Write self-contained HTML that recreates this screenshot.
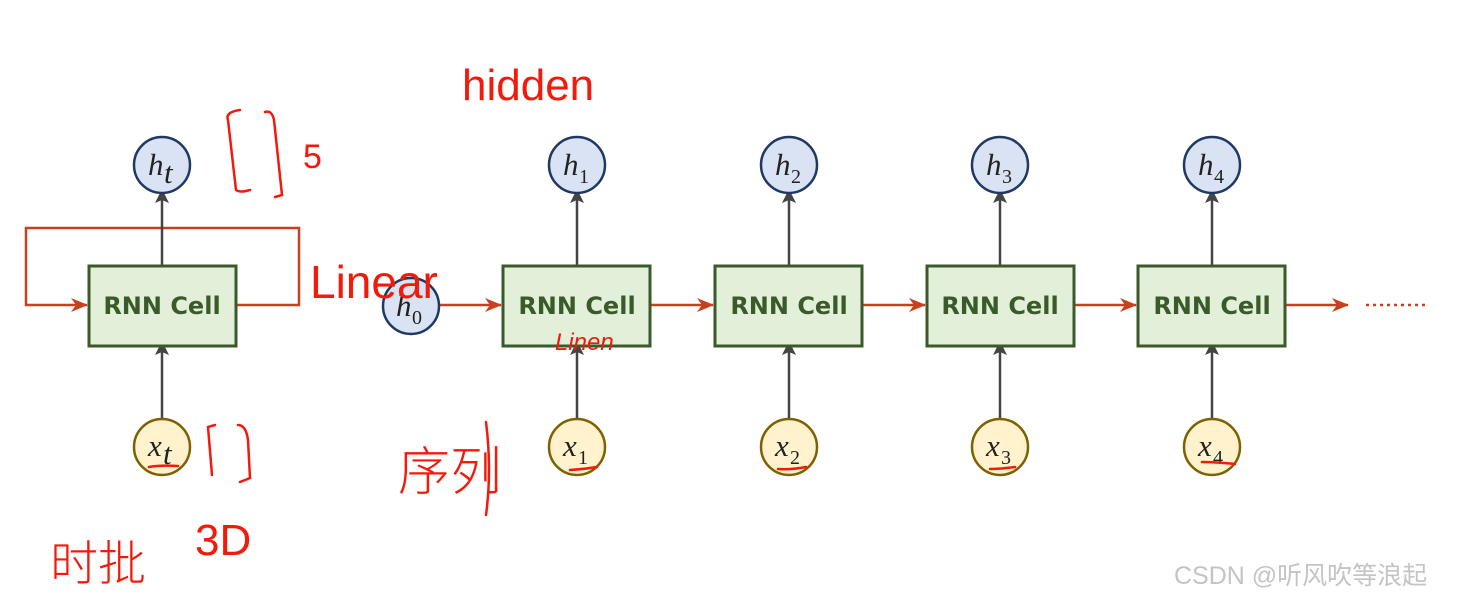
<!DOCTYPE html>
<html><head><meta charset="utf-8"><style>
html,body{margin:0;padding:0;background:#fff;width:1457px;height:602px;overflow:hidden}
svg{display:block}
.c{font-family:"DejaVu Sans","Liberation Sans",sans-serif;font-weight:bold;font-size:24px;fill:#3a5a2a}
.m{font-family:"Liberation Serif",serif;font-style:italic;font-size:31px;fill:#222}
.s{font-family:"Liberation Serif",serif;font-size:20px;fill:#222}
.r{font-family:"Liberation Sans","Noto Sans CJK SC",sans-serif;fill:#f21a0a;font-weight:300}
</style></head><body>
<svg width="1457" height="602" viewBox="0 0 1457 602">
<defs>
<marker id="ar" markerWidth="18" markerHeight="14" refX="16" refY="7" orient="auto" markerUnits="userSpaceOnUse">
<path d="M0,0 L17,7 L0,14 L5,7 Z" fill="#c8401e"/></marker>
<marker id="ag" markerWidth="14" markerHeight="14" refX="7" refY="7" orient="auto" markerUnits="userSpaceOnUse">
<path d="M0,0 L14,7 L0,14 L3,7 Z" fill="#444"/></marker>
</defs>
<g stroke="#c8401e" stroke-width="2.5" fill="none">
<polyline points="236,305 299,305 299,228 26,228 26,305 87,305" marker-end="url(#ar)"/>
<line x1="440" y1="305" x2="501" y2="305" marker-end="url(#ar)"/>
<line x1="650" y1="305" x2="713" y2="305" marker-end="url(#ar)"/>
<line x1="862" y1="305" x2="925" y2="305" marker-end="url(#ar)"/>
<line x1="1074" y1="305" x2="1136" y2="305" marker-end="url(#ar)"/>
<line x1="1285" y1="305" x2="1348" y2="305" marker-end="url(#ar)"/>
<line x1="1366" y1="305" x2="1428" y2="305" stroke-dasharray="3,4"/>
</g>
<g stroke="#444" stroke-width="2.5">
<line x1="162" y1="265" x2="162" y2="196" marker-end="url(#ag)"/>
<line x1="162" y1="418" x2="162" y2="348" marker-end="url(#ag)"/>
<line x1="577" y1="265" x2="577" y2="196" marker-end="url(#ag)"/>
<line x1="577" y1="418" x2="577" y2="348" marker-end="url(#ag)"/>
<line x1="789" y1="265" x2="789" y2="196" marker-end="url(#ag)"/>
<line x1="789" y1="418" x2="789" y2="348" marker-end="url(#ag)"/>
<line x1="1000" y1="265" x2="1000" y2="196" marker-end="url(#ag)"/>
<line x1="1000" y1="418" x2="1000" y2="348" marker-end="url(#ag)"/>
<line x1="1212" y1="265" x2="1212" y2="196" marker-end="url(#ag)"/>
<line x1="1212" y1="418" x2="1212" y2="348" marker-end="url(#ag)"/>
</g>
<g fill="#e2efd9" stroke="#3b5a2a" stroke-width="3">
<rect x="89" y="266" width="147" height="80"/>
<rect x="503" y="266" width="147" height="80"/>
<rect x="715" y="266" width="147" height="80"/>
<rect x="927" y="266" width="147" height="80"/>
<rect x="1138" y="266" width="147" height="80"/>
</g>
<g class="c" text-anchor="middle">
<text x="162" y="314">RNN Cell</text><text x="577" y="314">RNN Cell</text>
<text x="789" y="314">RNN Cell</text><text x="1000" y="314">RNN Cell</text>
<text x="1212" y="314">RNN Cell</text>
</g>
<g fill="#dae3f3" stroke="#203864" stroke-width="2.5">
<circle cx="162" cy="165" r="28"/><circle cx="577" cy="165" r="28"/><circle cx="789" cy="165" r="28"/>
<circle cx="1000" cy="165" r="28"/><circle cx="1212" cy="165" r="28"/><circle cx="411" cy="306" r="28"/>
</g>
<g fill="#fff2cc" stroke="#7f6000" stroke-width="2.5">
<circle cx="162" cy="447" r="28"/><circle cx="577" cy="447" r="28"/><circle cx="789" cy="447" r="28"/>
<circle cx="1000" cy="447" r="28"/><circle cx="1212" cy="447" r="28"/>
</g>
<g>
<text class="m" x="148" y="175">h</text><text class="m" x="164" y="183" font-size="22">t</text>
<text class="m" x="563" y="175">h</text><text class="s" x="579" y="183">1</text>
<text class="m" x="775" y="175">h</text><text class="s" x="791" y="183">2</text>
<text class="m" x="986" y="175">h</text><text class="s" x="1002" y="183">3</text>
<text class="m" x="1198" y="175">h</text><text class="s" x="1214" y="183">4</text>
<text class="m" x="396" y="316">h</text><text class="s" x="412" y="324">0</text>
<text class="m" x="148" y="456">x</text><text class="m" x="163" y="464" font-size="22">t</text>
<text class="m" x="563" y="456">x</text><text class="s" x="578" y="464">1</text>
<text class="m" x="775" y="456">x</text><text class="s" x="790" y="464">2</text>
<text class="m" x="986" y="456">x</text><text class="s" x="1001" y="464">3</text>
<text class="m" x="1198" y="456">x</text><text class="s" x="1213" y="464">4</text>
</g>
<g stroke="#f21a0a" stroke-width="2.5" fill="none" stroke-linecap="round">
<path d="M149,467 Q160,465 178,466"/><path d="M570,470 Q585,469 597,467"/>
<path d="M778,469 Q790,470 806,467"/><path d="M990,469 Q1000,469 1015,467"/>
<path d="M1202,462 Q1215,462 1235,464"/>
<path d="M240,110 Q225,112 228,120 L236,190 Q240,193 250,190"/>
<path d="M265,112 Q272,110 274,120 L282,195 L275,197"/>
<path d="M215,425 L208,427 L212,475"/><path d="M238,425 Q246,425 248,440 L250,478 L240,482"/>
<path d="M486,422 Q492,470 486,515"/>
</g>
<g class="r">
<text x="462" y="100" font-size="44">hidden</text>
<text x="303" y="168" font-size="34">5</text>
<text x="310" y="298" font-size="46">Linear</text>
<text x="555" y="350" font-size="24" font-style="italic">Linen</text>
<text x="398" y="490" font-size="52">序列</text>
<text x="50" y="580" font-size="48">时批</text>
<text x="195" y="555" font-size="44">3D</text>
</g>
<text x="1174" y="584" font-family="'Liberation Sans','Noto Sans CJK SC',sans-serif" font-size="25" fill="#c4c4c4">CSDN @听风吹等浪起</text>
</svg>
</body></html>
